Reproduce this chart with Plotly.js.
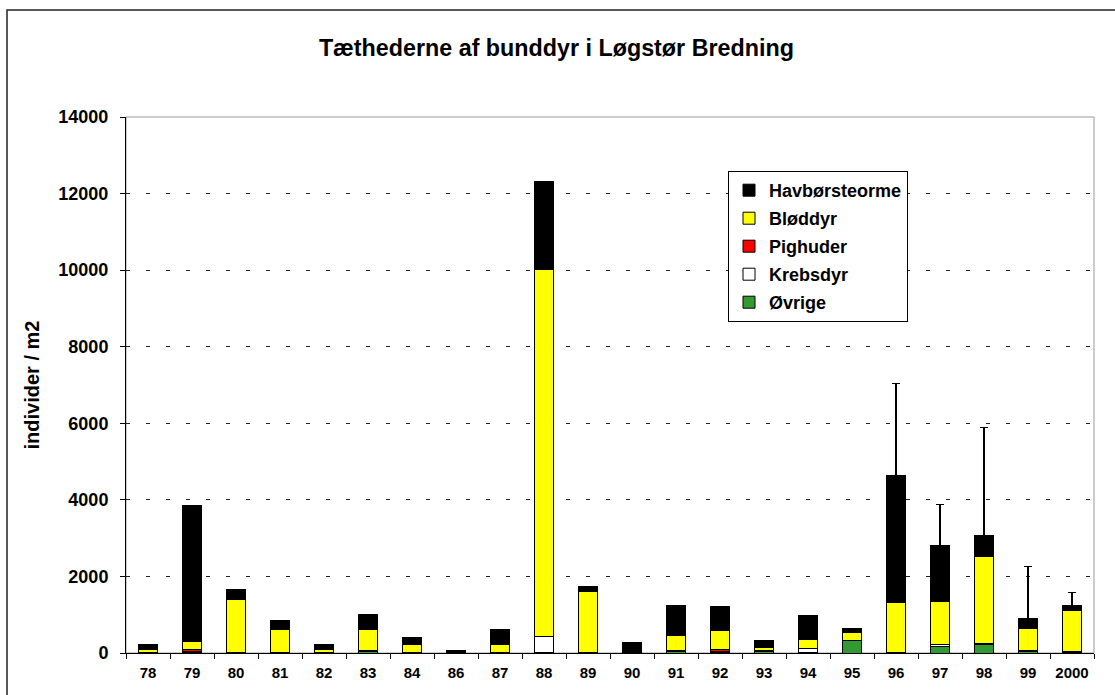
<!DOCTYPE html>
<html>
<head>
<meta charset="utf-8">
<script src="https://cdn.plot.ly/plotly-3.0.1.min.js"></script>
<style>html,body{margin:0;padding:0;background:#fff;}#chart{width:1115px;height:695px;}</style>
</head>
<body>
<div id="chart"></div>
<script>
const categories = ['78','79','80','81','82','83','84','86','87','88','89','90','91','92','93','94','95','96','97','98','99','2000'];
const ovrige       = [5, 10, 5, 5, 5, 30, 5, 5, 5, 5, 5, 10, 30, 20, 30, 20, 320, 10, 180, 220, 30, 25];
const krebsdyr     = [5, 30, 5, 5, 5, 40, 5, 5, 5, 420, 5, 20, 30, 20, 30, 90, 5, 5, 30, 30, 40, 25];
const pighuder     = [10, 40, 0, 0, 0, 0, 0, 0, 0, 0, 0, 0, 0, 60, 0, 0, 0, 0, 0, 0, 0, 0];
const bloddyr      = [75, 215, 1390, 610, 85, 540, 225, 10, 200, 9600, 1590, 30, 385, 490, 75, 238, 215, 1300, 1140, 2258, 565, 1055];
const havborsteorme= [130, 3545, 252, 235, 121, 384, 175, 50, 410, 2288, 131, 209, 784, 618, 196, 636, 105, 3316, 1463, 556, 261, 141];
const errorPlus    = [null, null, null, null, null, null, null, null, null, null, null, null, null, null, null, null, null, 2403, 1071, 2821, 1368, 329];
const yTicks = [0, 2000, 4000, 6000, 8000, 10000, 12000, 14000];

const FONT = 'Liberation Sans, Arial, Helvetica, sans-serif';
function bar(name, y, color, rank, extra) {
  return Object.assign({
    type: 'bar', name: name, x: categories, y: y, legendgroup: name, legendrank: rank,
    marker: {color: color, line: {color: '#000', width: 1}},
    hoverinfo: 'x+y+name'
  }, extra || {});
}
const traces = [
  bar('Øvrige', ovrige, '#339933', 5),
  bar('Krebsdyr', krebsdyr, '#ffffff', 4),
  bar('Pighuder', pighuder, '#ff0000', 3),
  bar('Bløddyr', bloddyr, '#ffff00', 2),
  bar('Havbørsteorme', havborsteorme, '#000000', 1, {
    error_y: {type: 'data', symmetric: false, array: errorPlus, arrayminus: errorPlus.map(v => v === null ? null : 0),
              color: '#000', thickness: 1.5, width: 4}
  })
];

const L = 126, R = 1094, T = 117, B = 653, W = 1115, H = 695;
const pw = R - L, ph = B - T;
const layout = {
  width: W, height: H,
  margin: {l: L, r: W - R, t: T, b: H - B, pad: 0},
  paper_bgcolor: '#fff', plot_bgcolor: '#fff',
  font: {family: FONT, size: 15, color: '#000', weight: 'bold'},
  barmode: 'stack', bargap: 0.58,
  showlegend: true,
  title: {text: 'Tæthederne af bunddyr i Løgstør Bredning', font: {family: FONT, size: 23.3, weight: 'bold', color: '#000'},
          xref: 'container', x: 0.499, xanchor: 'center', yref: 'container', y: 1 - 48 / H, yanchor: 'middle'},
  xaxis: {
    type: 'category', tickson: 'boundaries', ticks: 'outside', ticklen: 5, tickcolor: '#000', tickwidth: 1,
    showline: true, linecolor: '#000', linewidth: 1, showgrid: false, zeroline: false,
    tickfont: {family: FONT, size: 15, weight: 'bold'}, ticklabelstandoff: 6, fixedrange: true
  },
  yaxis: {
    range: [0, 14000], tickvals: yTicks, ticktext: yTicks.map(String), ticks: 'outside', ticklen: 5, tickcolor: '#000',
    showline: true, linecolor: '#000', linewidth: 1, zeroline: false,
    showgrid: true, gridcolor: '#222', gridwidth: 1, griddash: '4px,16px',
    tickfont: {family: FONT, size: 18, weight: 'bold'}, ticklabelstandoff: 8,
    title: {text: 'individer / m2', font: {family: FONT, size: 20, weight: 'bold'}, standoff: 13},
    fixedrange: true
  },
  legend: {
    x: (728 - L) / pw, y: (B - 171) / ph, xanchor: 'left', yanchor: 'top',
    bgcolor: '#fff', bordercolor: '#000', borderwidth: 1,
    font: {family: FONT, size: 18, weight: 'bold', color: '#000'},
    traceorder: 'grouped', tracegroupgap: 1.6
  },
  shapes: [
    {type: 'rect', xref: 'paper', yref: 'paper', x0: 0, x1: 1, y0: 0, y1: 1, line: {color: '#999', width: 1}, layer: 'below'},
    {type: 'rect', xref: 'paper', yref: 'paper', x0: (7 - L) / pw, x1: (1130 - L) / pw, y0: (B - 710) / ph, y1: (B - 10) / ph,
     line: {color: '#222', width: 1.5}, fillcolor: 'rgba(0,0,0,0)', layer: 'above'}
  ]
};
Plotly.newPlot('chart', traces, layout, {displayModeBar: false, staticPlot: true});
</script>
</body>
</html>
